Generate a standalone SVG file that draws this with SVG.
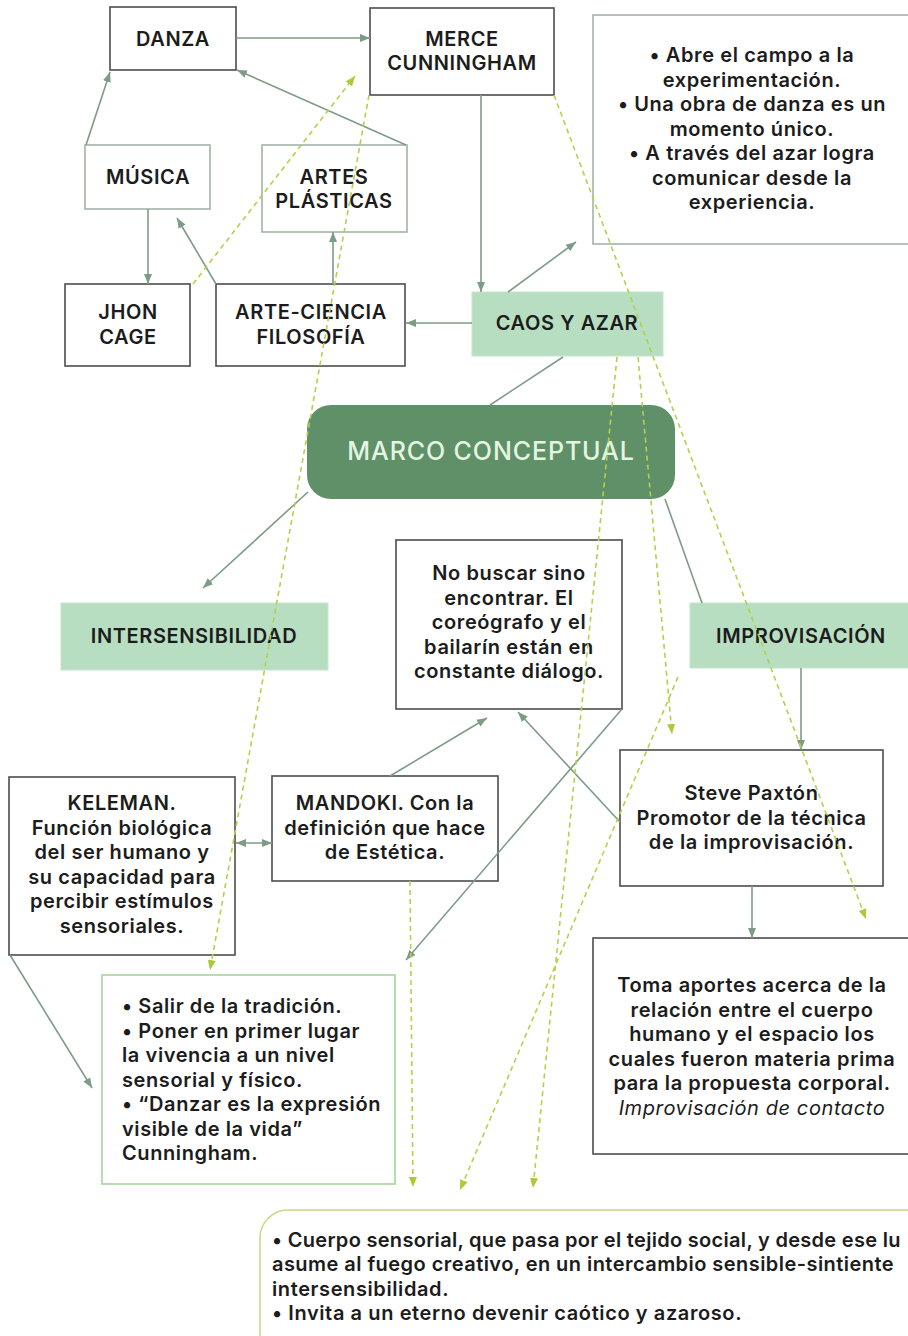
<svg xmlns="http://www.w3.org/2000/svg" width="908" height="1336" viewBox="0 0 908 1336">
<style>
.t{font-family:Inter,"Open Sans","Liberation Sans",sans-serif;font-weight:600;font-size:20px;fill:#1c1c1c;letter-spacing:0.6px}
.c{text-anchor:middle}
.dk{fill:#fff;stroke:#4d4d4d;stroke-width:1.6}
.lt{fill:#fff;stroke:#a3b3a6;stroke-width:1.6}
.gr{fill:#b8dec1;stroke:#c6e4cc;stroke-width:1}
.sol{stroke:#7c9c86;stroke-width:1.6;fill:none}
.dsh{stroke:#b3d14a;stroke-width:1.6;stroke-dasharray:5 4;fill:none}
</style>
<defs>
<marker id="ah" viewBox="0 0 10 10" refX="10" refY="5" markerWidth="10" markerHeight="10" markerUnits="userSpaceOnUse" orient="auto-start-reverse"><path d="M0,1 L10,5 L0,9 z" fill="#7c9c86"/></marker>
<marker id="ad" viewBox="0 0 10 10" refX="10" refY="5" markerWidth="10" markerHeight="10" markerUnits="userSpaceOnUse" orient="auto"><path d="M0,1 L10,5 L0,9 z" fill="#a9cb35"/></marker>
</defs>
<rect width="908" height="1336" fill="#fff"/>

<g id="danza"><rect class="dk" x="110" y="7" width="126" height="63"/><text class="t c" x="173" y="46">DANZA</text></g>
<g id="merce"><rect class="dk" x="370" y="8" width="184" height="87"/><text class="t c" x="462" y="45.5">MERCE</text><text class="t c" x="462" y="70">CUNNINGHAM</text></g>
<g id="musica"><rect class="lt" x="85" y="145" width="125" height="64"/><text class="t c" x="148" y="184">MÚSICA</text></g>
<g id="artes"><rect class="lt" x="262" y="145" width="145" height="87"/><text class="t c" x="334" y="183.5">ARTES</text><text class="t c" x="334" y="208">PLÁSTICAS</text></g>
<g id="jhon"><rect class="dk" x="65" y="284" width="125" height="82"/><text class="t c" x="128" y="319">JHON</text><text class="t c" x="128" y="343.5">CAGE</text></g>
<g id="arteciencia"><rect class="dk" x="216" y="284" width="189" height="82"/><text class="t c" x="311" y="319">ARTE-CIENCIA</text><text class="t c" x="311" y="343.5">FILOSOFÍA</text></g>
<g id="caos"><rect class="gr" x="472" y="292" width="191" height="64"/><text class="t c" x="567" y="330">CAOS Y AZAR</text></g>
<g id="abre"><rect class="lt" x="593" y="15" width="330" height="229"/>
<text class="t c" x="752" y="62">• Abre el campo a la</text>
<text class="t c" x="752" y="86.5">experimentación.</text>
<text class="t c" x="752" y="111">• Una obra de danza es un</text>
<text class="t c" x="752" y="135.5">momento único.</text>
<text class="t c" x="752" y="160">• A través del azar logra</text>
<text class="t c" x="752" y="184.5">comunicar desde la</text>
<text class="t c" x="752" y="209">experiencia.</text></g>
<g id="marco"><rect x="307" y="405" width="368" height="94" rx="24" fill="#5f9068"/><text class="t c" x="491" y="460" style="font-size:25px;font-weight:500;fill:#e4f5e1;letter-spacing:0.9px">MARCO CONCEPTUAL</text></g>
<g id="nobuscar"><rect class="dk" x="396" y="540" width="226" height="169"/>
<text class="t c" x="509" y="580">No buscar sino</text>
<text class="t c" x="509" y="604.5">encontrar. El</text>
<text class="t c" x="509" y="629">coreógrafo y el</text>
<text class="t c" x="509" y="653.5">bailarín están en</text>
<text class="t c" x="509" y="678">constante diálogo.</text></g>
<g id="intersensibilidad"><rect class="gr" x="61" y="603" width="267" height="67"/><text class="t c" x="194" y="643">INTERSENSIBILIDAD</text></g>
<g id="improvisacion"><rect class="gr" x="690" y="603" width="230" height="65"/><text class="t c" x="801" y="643">IMPROVISACIÓN</text></g>
<g id="keleman"><rect class="dk" x="9" y="777" width="226" height="178"/>
<text class="t c" x="122" y="810">KELEMAN.</text>
<text class="t c" x="122" y="834.6">Función biológica</text>
<text class="t c" x="122" y="859.2">del ser humano y</text>
<text class="t c" x="122" y="883.8">su capacidad para</text>
<text class="t c" x="122" y="908.4">percibir estímulos</text>
<text class="t c" x="122" y="933">sensoriales.</text></g>
<g id="mandoki"><rect class="dk" x="272" y="776" width="226" height="105"/>
<text class="t c" x="385" y="810">MANDOKI. Con la</text>
<text class="t c" x="385" y="834.5">definición que hace</text>
<text class="t c" x="385" y="859">de Estética.</text></g>
<g id="paxton"><rect class="dk" x="620" y="750" width="263" height="136"/>
<text class="t c" x="751.5" y="800">Steve Paxtón</text>
<text class="t c" x="751.5" y="824.5">Promotor de la técnica</text>
<text class="t c" x="751.5" y="849">de la improvisación.</text></g>
<g id="toma"><rect class="dk" x="593" y="938" width="330" height="216"/>
<text class="t c" x="752" y="992">Toma aportes acerca de la</text>
<text class="t c" x="752" y="1016.5">relación entre el cuerpo</text>
<text class="t c" x="752" y="1041">humano y el espacio los</text>
<text class="t c" x="752" y="1065.5">cuales fueron materia prima</text>
<text class="t c" x="752" y="1090">para la propuesta corporal.</text>
<text class="t c" x="752" y="1114.5" style="font-style:italic;font-weight:400">Improvisación de contacto</text></g>
<g id="salir"><rect x="102" y="975" width="293" height="209" fill="#fff" stroke="#a6d49a" stroke-width="1.6"/>
<text class="t" x="122" y="1013">• Salir de la tradición.</text>
<text class="t" x="122" y="1037.5">• Poner en primer lugar</text>
<text class="t" x="122" y="1062">la vivencia a un nivel</text>
<text class="t" x="122" y="1086.5">sensorial y físico.</text>
<text class="t" x="122" y="1111">• “Danzar es la expresión</text>
<text class="t" x="122" y="1135.5">visible de la vida”</text>
<text class="t" x="122" y="1160">Cunningham.</text></g>
<g id="cuerpo"><rect x="260" y="1210" width="700" height="200" rx="28" fill="#fff" stroke="#c5db84" stroke-width="1.6"/>
<text class="t" x="272" y="1247" style="letter-spacing:0.3px">• Cuerpo sensorial, que pasa por el tejido social, y desde ese lu</text>
<text class="t" x="272" y="1271.3" style="letter-spacing:0.45px">asume al fuego creativo, en un intercambio sensible-sintiente</text>
<text class="t" x="272" y="1295.6">intersensibilidad.</text>
<text class="t" x="272" y="1319.9">• Invita a un eterno devenir caótico y azaroso.</text></g>

<g id="connectors">
<path class="sol" d="M236,38 L370,38" marker-end="url(#ah)"/>
<path class="sol" d="M86,145 L110,72" marker-end="url(#ah)"/>
<path class="sol" d="M406,145 L237,70" marker-end="url(#ah)"/>
<path class="sol" d="M148,209 L148,284" marker-end="url(#ah)"/>
<path class="sol" d="M216,284 L177,218" marker-end="url(#ah)"/>
<path class="sol" d="M333,284 L333,232" marker-end="url(#ah)"/>
<path class="sol" d="M472,323 L406,323" marker-end="url(#ah)"/>
<path class="sol" d="M481,95 L481,292" marker-end="url(#ah)"/>
<path class="sol" d="M508,292 L576,242" marker-end="url(#ah)"/>
<path class="sol" d="M563,357 L490,405"/>
<path class="sol" d="M308,492 L203,588" marker-end="url(#ah)"/>
<path class="sol" d="M665,499 L702,603"/>
<path class="sol" d="M801,668 L801,750" marker-end="url(#ah)"/>
<path class="sol" d="M390,776 L487,718" marker-end="url(#ah)"/>
<path class="sol" d="M620,822 L518,712" marker-end="url(#ah)"/>
<path class="sol" d="M622,709 L406,960" marker-end="url(#ah)"/>
<path class="sol" d="M236,843 L272,843" marker-start="url(#ah)" marker-end="url(#ah)"/>
<path class="sol" d="M10,955 L92,1088" marker-end="url(#ah)"/>
<path class="sol" d="M752,886 L752,938" marker-end="url(#ah)"/>
<path class="dsh" d="M193,284 L355,76" marker-end="url(#ad)"/>
<path class="dsh" d="M369,95 L210,970" marker-end="url(#ad)"/>
<path class="dsh" d="M554,95 L866,919" marker-end="url(#ad)"/>
<path class="dsh" d="M617,357 L533,1188" marker-end="url(#ad)"/>
<path class="dsh" d="M638,357 L672,734" marker-end="url(#ad)"/>
<path class="dsh" d="M678,677 L460,1190" marker-end="url(#ad)"/>
<path class="dsh" d="M410,881 L413,1187" marker-end="url(#ad)"/>
</g>
</svg>
